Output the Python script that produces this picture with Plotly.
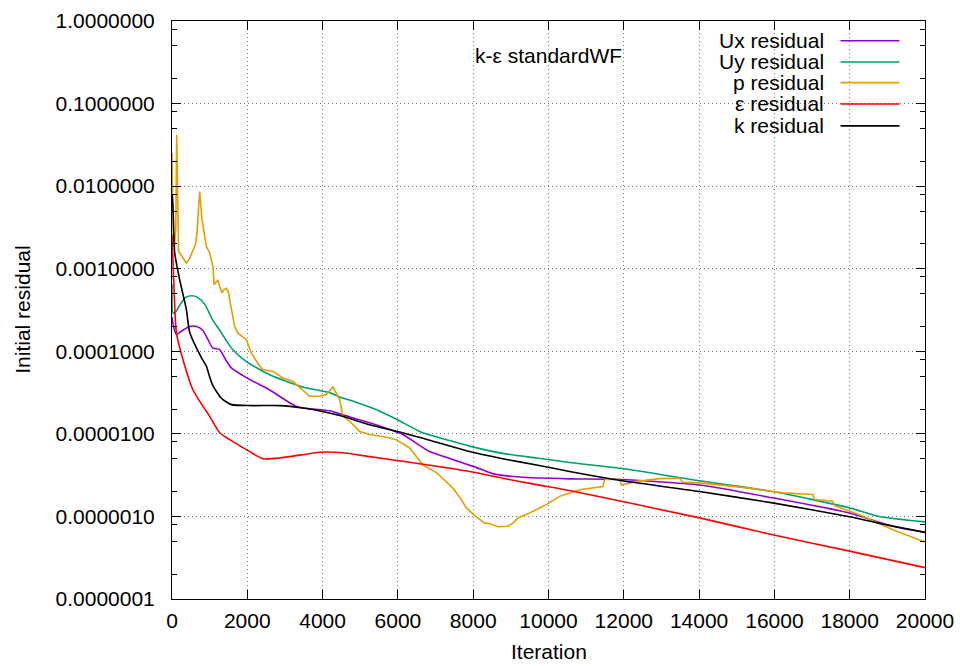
import plotly.graph_objects as go

# ---------------- data ----------------
ux_iter = [1, 40, 117, 285, 470, 655, 815, 950, 1080, 1265, 1425, 1577, 1975, 2594, 3310, 4187,
           4533, 5250, 6126, 6843, 7454, 8090, 8515, 9232, 10560, 11890, 14010, 15950, 17995, 19137, 20000]
ux_res = [2.6e-4, 2.0e-4, 1.6e-4, 1.8e-4, 2.0e-4, 2.0e-4, 1.8e-4, 1.4e-4, 1.1e-4, 1.05e-4, 7.9e-5, 6.3e-5,
          4.8e-5, 3.4e-5, 2.15e-5, 1.9e-5, 1.7e-5, 1.36e-5, 9.8e-6, 6.1e-6, 4.9e-6, 3.9e-6, 3.3e-6, 3.0e-6,
          2.85e-6, 2.8e-6, 2.4e-6, 1.68e-6, 1.1e-6, 7.6e-7, 6.4e-7]

uy_iter = [1, 30, 100, 200, 365, 523, 680, 870, 1080, 1265, 1610, 1975, 2594, 3470, 4187, 4453, 4904,
           5435, 5966, 6657, 7294, 7905, 8781, 9684, 10560, 11970, 14010, 15950, 17995, 18790, 20000]
uy_res = [6.5e-4, 2.9e-4, 3.0e-4, 3.6e-4, 4.5e-4, 4.7e-4, 4.5e-4, 3.7e-4, 2.4e-4, 1.8e-4, 1.05e-4, 7.5e-5,
          5.2e-5, 3.7e-5, 3.15e-5, 2.8e-5, 2.4e-5, 1.96e-5, 1.5e-5, 1.03e-5, 8.5e-6, 7.1e-6, 5.8e-6, 5.1e-6,
          4.5e-6, 3.8e-6, 2.7e-6, 2.0e-6, 1.27e-6, 1.0e-6, 8.6e-7]

p_iter = [1, 30, 60, 100, 125, 145, 175, 205, 337, 382, 470, 558, 621, 664, 735, 797, 850, 913, 1001,
          1046, 1089, 1115, 1179, 1221, 1267, 1328, 1381, 1445, 1505, 1532, 1665, 1752, 1975, 2108, 2329,
          2416, 2682, 2947, 3213, 3478, 3656, 3922, 4100, 4275, 4453, 4541, 4718, 4984, 5250, 5693, 5959,
          6312, 6665, 7021, 7461, 7685, 7817, 8083, 8303, 8436, 8656, 8922, 9055, 9187, 9498, 9941, 10295,
          10826, 11444, 11490, 11888, 11933, 12331, 12950, 13481, 13569, 14012, 14721, 15427, 16224, 17021,
          17066, 17552, 17597, 18261, 19145, 20000]
p_res = [2.5e-2, 3e-3, 1.8e-3, 3e-3, 4.2e-2, 5e-3, 1.6e-3, 1.55e-3, 1.22e-3, 1.17e-3, 1.34e-3, 1.7e-3,
         1.95e-3, 2.7e-3, 8.6e-3, 3.9e-3, 2.7e-3, 1.86e-3, 1.55e-3, 1.22e-3, 1.06e-3, 6.4e-4, 7.0e-4, 7.3e-4,
         6.1e-4, 5.1e-4, 5.6e-4, 5.8e-4, 5.1e-4, 4.2e-4, 2.0e-4, 1.66e-4, 1.38e-4, 9.5e-5, 6.6e-5, 6.0e-5,
         5.7e-5, 4.75e-5, 4.3e-5, 3.4e-5, 2.85e-5, 2.85e-5, 3.0e-5, 3.7e-5, 2.6e-5, 1.63e-5, 1.42e-5, 1.07e-5,
         9.8e-6, 9.1e-6, 8.5e-6, 6.75e-6, 4.2e-6, 3.4e-6, 2.2e-6, 1.6e-6, 1.27e-6, 9.9e-7, 8.3e-7, 8.2e-7,
         7.5e-7, 7.6e-7, 8.3e-7, 9.6e-7, 1.1e-6, 1.39e-6, 1.75e-6, 2.1e-6, 2.3e-6, 2.8e-6, 2.85e-6, 2.4e-6,
         2.66e-6, 2.87e-6, 2.9e-6, 2.6e-6, 2.55e-6, 2.36e-6, 2.17e-6, 1.93e-6, 1.84e-6, 1.6e-6, 1.53e-6,
         1.35e-6, 1.05e-6, 6.9e-7, 4.9e-7]

eps_iter = [1, 45, 117, 292, 558, 823, 1001, 1267, 1532, 2063, 2416, 2860, 3478, 3922, 4533, 5250, 6126,
            7028, 7905, 8781, 9684, 10560, 14010, 15950, 17995, 20000]
eps_res = [2.6e-3, 7.3e-4, 1.68e-4, 7.9e-5, 3.4e-5, 2.15e-5, 1.63e-5, 1.03e-5, 8.5e-6, 6.1e-6, 5.0e-6,
           5.1e-6, 5.6e-6, 6.0e-6, 5.9e-6, 5.3e-6, 4.65e-6, 4.05e-6, 3.5e-6, 2.9e-6, 2.43e-6, 2.06e-6,
           9.6e-7, 6.0e-7, 3.8e-7, 2.4e-7]

k_iter = [1, 27, 72, 205, 382, 470, 780, 913, 1000, 1090, 1312, 1577, 2143, 2860, 3470, 4002, 4533, 5250,
          6126, 7028, 7905, 8781, 9684, 10560, 11970, 14010, 15950, 17995, 18870, 20000]
k_res = [8e-3, 5.6e-3, 1.56e-3, 7.3e-4, 3.2e-4, 1.7e-4, 8.4e-5, 6.6e-5, 4.9e-5, 3.8e-5, 2.7e-5, 2.26e-5,
         2.2e-5, 2.2e-5, 2.06e-5, 1.87e-5, 1.63e-5, 1.29e-5, 1.03e-5, 7.9e-6, 6.1e-6, 5.0e-6, 4.2e-6, 3.5e-6,
         2.7e-6, 2.0e-6, 1.46e-6, 9.9e-7, 8.1e-7, 6.4e-7]

series_names = ["Ux residual", "Uy residual", "p residual", "ε residual", "k residual"]
series_colors = ["#9400d3", "#009e73", "#e69f00", "#ff0000", "#000000"]

x_ticks = [0, 2000, 4000, 6000, 8000, 10000, 12000, 14000, 16000, 18000, 20000]
x_ticklabels = ["0", "2000", "4000", "6000", "8000", "10000", "12000", "14000", "16000", "18000", "20000"]
y_ticks = [1e-7, 1e-6, 1e-5, 1e-4, 1e-3, 1e-2, 1e-1, 1.0]
y_ticklabels = ["0.0000001", "0.0000010", "0.0000100", "0.0001000",
                "0.0010000", "0.0100000", "0.1000000", "1.0000000"]
y_minor = [m * 10.0 ** e for e in range(-7, 0) for m in (2, 5, 8)]

title_text = "k-ε standardWF"

# ---------------- figure ----------------
# the page body margin is removed (post_script below), so the figure sits at the window origin
W, H = 960, 666
PL, PR, PT, PB = 172.3, 925.5, 21.0, 599.5          # plot box in window pixels
L, R, T, B = PL, W - PR, PT, H - PB
PW, PH = PR - PL, PB - PT


def px(x):
    return (x - PL) / PW


def py(y):
    return (PB - y) / PH


FONT = "Liberation Sans, Arial, Helvetica, sans-serif"
FS = 21

fig = go.Figure()
data = [(ux_iter, ux_res, "spline"), (uy_iter, uy_res, "spline"), (p_iter, p_res, "linear"),
        (eps_iter, eps_res, "spline"), (k_iter, k_res, "spline")]
for (xs, ys, shape), name, col in zip(data, series_names, series_colors):
    fig.add_trace(go.Scatter(x=xs, y=ys, mode="lines", name=name,
                             line=dict(color=col, width=1.6, shape=shape,
                                       smoothing=0.6 if shape == "spline" else None),
                             showlegend=False, hoverinfo="skip"))

axis_common = dict(showline=True, linecolor="black", linewidth=1, mirror="allticks",
                   ticks="inside", ticklen=9, tickcolor="black", tickwidth=1,
                   showgrid=True, gridcolor="#777777", gridwidth=1, griddash="1px,3px",
                   zeroline=False, automargin=False,
                   tickfont=dict(family=FONT, size=FS, color="black"))

fig.update_xaxes(range=[0, 20000], tickmode="array", tickvals=x_ticks, ticktext=x_ticklabels,
                 ticklabelstandoff=3, **axis_common)
fig.update_yaxes(type="log", range=[-7, 0], tickmode="array", tickvals=y_ticks,
                 ticktext=y_ticklabels, ticklabelstandoff=12,
                 minor=dict(tickmode="array", tickvals=y_minor, ticks="inside", ticklen=5,
                            tickcolor="black", showgrid=False),
                 **axis_common)

shapes = [dict(type="rect", xref="paper", yref="paper", x0=px(686), x1=1, y0=py(185), y1=1,
               fillcolor="white", line=dict(width=0), layer="between")]
annotations = [
    dict(text=title_text, xref="paper", yref="paper", x=px(473), y=py(56), xanchor="left",
         yanchor="middle", showarrow=False, font=dict(family=FONT, size=FS, color="black")),
    dict(text="Initial residual", xref="paper", yref="paper", x=px(22), y=0.5, textangle=-90,
         xanchor="center", yanchor="middle", showarrow=False,
         font=dict(family=FONT, size=FS, color="black")),
    dict(text="Iteration", xref="paper", yref="paper", x=0.5, y=py(652), xanchor="center",
         yanchor="middle", showarrow=False, font=dict(family=FONT, size=FS, color="black")),
]
row_y = [40.7, 62, 82.7, 104, 126]
for name, col, yy in zip(series_names, series_colors, row_y):
    annotations.append(dict(text=name, xref="paper", yref="paper", x=px(826), y=py(yy),
                            xanchor="right", yanchor="middle", showarrow=False,
                            font=dict(family=FONT, size=FS, color="black")))
    shapes.append(dict(type="line", xref="paper", yref="paper", x0=px(841), x1=px(900),
                       y0=py(yy), y1=py(yy), line=dict(color=col, width=1.6), layer="above"))

fig.update_layout(width=W, height=H, margin=dict(l=L, r=R, t=T, b=B, pad=0, autoexpand=False),
                  paper_bgcolor="white", plot_bgcolor="white", showlegend=False,
                  shapes=shapes, annotations=annotations, hovermode=False,
                  font=dict(family=FONT, size=FS, color="black"))

fig.write_html("out.html", config={"displayModeBar": False, "staticPlot": True},
               post_script="document.body.style.margin='0';document.body.style.overflow='hidden';")
